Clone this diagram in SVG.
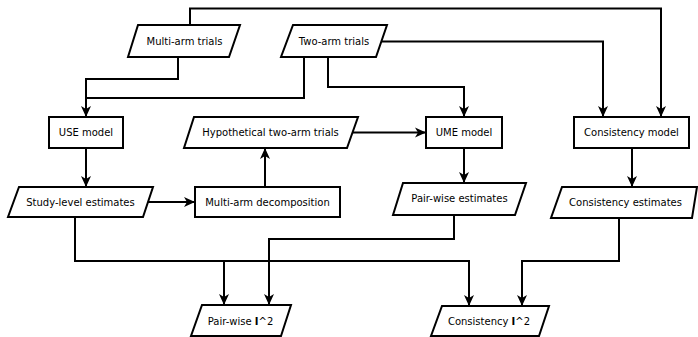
<svg xmlns="http://www.w3.org/2000/svg" width="698" height="337" viewBox="0 0 698 337">
<style>
.n{fill:#fff;stroke:#000;stroke-width:2}
.t{font-family:"DejaVu Sans",sans-serif;font-size:10px;fill:#000;text-anchor:middle}
.e{fill:none;stroke:#000;stroke-width:2}
</style>
<defs>
<marker id="a" markerUnits="userSpaceOnUse" markerWidth="12" markerHeight="12" viewBox="0 0 12 12" refX="11" refY="6" orient="auto">
<path d="M0,1 L11,6 L0,11 L3,6 z" fill="#000"/>
</marker>
</defs>
<rect width="698" height="337" fill="#fff"/>
<g id="edges">
<polyline class="e" points="190,25 190,8.5 661,8.5 661,117" marker-end="url(#a)"/>
<polyline class="e" points="178,57 178,79 86,79 86,117" marker-end="url(#a)"/>
<polyline class="e" points="304,57 304,98 86,98"/>
<polyline class="e" points="328,57 328,87 464,87 464,117" marker-end="url(#a)"/>
<polyline class="e" points="382,41.5 603,41.5 603,117" marker-end="url(#a)"/>
<polyline class="e" points="86,148 86,187" marker-end="url(#a)"/>
<polyline class="e" points="148,202 195,202" marker-end="url(#a)"/>
<polyline class="e" points="265,187 265,148" marker-end="url(#a)"/>
<polyline class="e" points="353,132.5 426,132.5" marker-end="url(#a)"/>
<polyline class="e" points="464,148 464,183" marker-end="url(#a)"/>
<polyline class="e" points="632,148 632,187" marker-end="url(#a)"/>
<polyline class="e" points="75,217 75,261 469,261 469,306" marker-end="url(#a)"/>
<polyline class="e" points="224,261 224,305" marker-end="url(#a)"/>
<polyline class="e" points="454,215 454,239 269,239 269,305" marker-end="url(#a)"/>
<polyline class="e" points="619,218 619,261 522,261 522,306" marker-end="url(#a)"/>
</g>
<g id="multi-arm-trials">
<polygon class="n" points="138,25 240,25 229,57 128,57"/>
<text class="t" x="184.5" y="45">Multi-arm trials</text>
</g>
<g id="two-arm-trials">
<polygon class="n" points="293,25 387,25 376,57 281,57"/>
<text class="t" x="334" y="45">Two-arm trials</text>
</g>
<g id="use-model">
<rect class="n" x="49" y="117" width="74" height="31"/>
<text class="t" x="86" y="136">USE model</text>
</g>
<g id="hypothetical">
<polygon class="n" points="194,117 358,117 347,148 184,148"/>
<text class="t" x="270.5" y="136">Hypothetical two-arm trials</text>
</g>
<g id="ume-model">
<rect class="n" x="426" y="117" width="76" height="31"/>
<text class="t" x="464" y="136">UME model</text>
</g>
<g id="consistency-model">
<rect class="n" x="574" y="117" width="115" height="31"/>
<text class="t" x="631.5" y="136">Consistency model</text>
</g>
<g id="study-level">
<polygon class="n" points="19,187 153,187 143,217 8,217"/>
<text class="t" x="80.5" y="206">Study-level estimates</text>
</g>
<g id="decomposition">
<rect class="n" x="195" y="187" width="145" height="30"/>
<text class="t" x="267.5" y="206">Multi-arm decomposition</text>
</g>
<g id="pairwise-estimates">
<polygon class="n" points="403,183 526,183 515,215 393,215"/>
<text class="t" x="459.5" y="202">Pair-wise estimates</text>
</g>
<g id="consistency-estimates">
<polygon class="n" points="562,187 697,187 692,218 551,218"/>
<text class="t" x="625.5" y="206">Consistency estimates</text>
</g>
<g id="pairwise-i2">
<polygon class="n" points="202,305 291,305 281,336 191,336"/>
<text class="t" x="240.5" y="325">Pair-wise <tspan font-weight="bold">I</tspan>^2</text>
</g>
<g id="consistency-i2">
<polygon class="n" points="442,306 549,306 539,336 431,336"/>
<text class="t" x="489" y="325">Consistency <tspan font-weight="bold">I</tspan>^2</text>
</g>
</svg>
